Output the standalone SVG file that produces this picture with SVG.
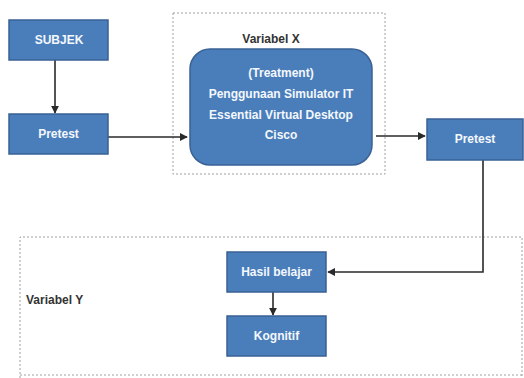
<svg xmlns="http://www.w3.org/2000/svg" width="524" height="378" viewBox="0 0 524 378">
<style>
.box{fill:#4a7ebb;stroke:#3a6295;stroke-width:1.5}
.lbl{font-family:"Liberation Sans",Arial,sans-serif;font-size:12px;font-weight:bold;fill:#f4f7fc;text-anchor:middle}
.cap{font-family:"Liberation Sans",Arial,sans-serif;font-size:12px;font-weight:bold;fill:#333333}
.dash{fill:none;stroke:#a0a0a0;stroke-width:1;stroke-dasharray:2,2}
.conn{fill:none;stroke:#2a2a2a;stroke-width:1.6}
</style>
<defs>
<marker id="ah" viewBox="0 0 10 10" refX="9" refY="5" markerWidth="5" markerHeight="5" orient="auto" markerUnits="strokeWidth">
<path d="M0,0 L10,5 L0,10 z" fill="#2a2a2a"/>
</marker>
</defs>
<rect width="524" height="378" fill="#ffffff"/>
<g id="groupX">
<rect class="dash" x="173" y="13" width="212" height="161"/>
<text class="cap" x="271" y="43" text-anchor="middle">Variabel X</text>
</g>
<g id="groupY">
<path class="dash" d="M20,378 L20,237 L522,237 L522,378"/>
<line class="dash" x1="20" y1="375" x2="522" y2="375"/>
<text class="cap" x="26" y="304">Variabel Y</text>
</g>
<g id="connectors">
<line class="conn" x1="55" y1="60" x2="55" y2="113" marker-end="url(#ah)"/>
<line class="conn" x1="108" y1="137" x2="187" y2="137" marker-end="url(#ah)"/>
<line class="conn" x1="376" y1="136" x2="425" y2="136" marker-end="url(#ah)"/>
<polyline class="conn" points="483,160 483,272 328,272" marker-end="url(#ah)"/>
<line class="conn" x1="273" y1="292" x2="273" y2="315" marker-end="url(#ah)"/>
</g>
<g id="subjek">
<rect class="box" x="9" y="20" width="99" height="40"/>
<text class="lbl" x="59" y="44">SUBJEK</text>
</g>
<g id="pretest1">
<rect class="box" x="9" y="114" width="99" height="40"/>
<text class="lbl" x="58.5" y="138">Pretest</text>
</g>
<g id="treatment">
<rect class="box" x="190" y="49" width="182" height="116" rx="20" ry="20"/>
<text class="lbl" x="281" y="77">(Treatment)</text>
<text class="lbl" x="281" y="98">Penggunaan Simulator IT</text>
<text class="lbl" x="281" y="119">Essential Virtual Desktop</text>
<text class="lbl" x="281" y="139">Cisco</text>
</g>
<g id="pretest2">
<rect class="box" x="427" y="119" width="96" height="41"/>
<text class="lbl" x="475" y="143">Pretest</text>
</g>
<g id="hasil">
<rect class="box" x="227" y="252" width="99" height="40"/>
<text class="lbl" x="276.5" y="276">Hasil belajar</text>
</g>
<g id="kognitif">
<rect class="box" x="227" y="316" width="99" height="40"/>
<text class="lbl" x="276.5" y="340">Kognitif</text>
</g>
</svg>
